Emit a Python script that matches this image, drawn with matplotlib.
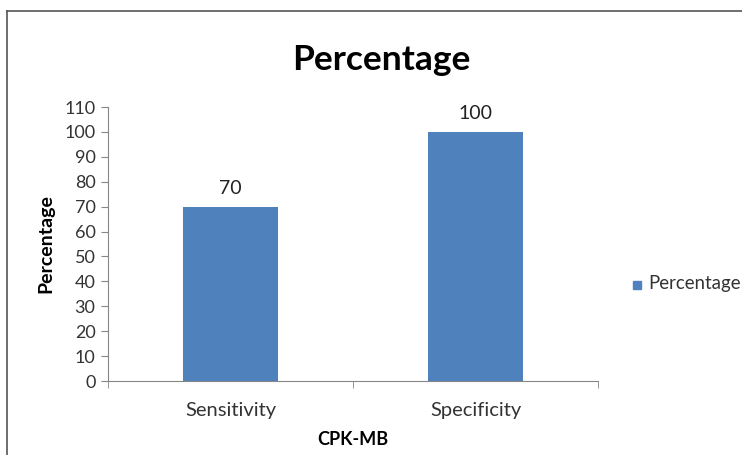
import matplotlib
matplotlib.use("Agg")
import matplotlib.pyplot as plt
from matplotlib.lines import Line2D
from matplotlib.patches import Rectangle

categories = ["Sensitivity", "Specificity"]
values = [70, 100]
yticks = list(range(0, 111, 10))

plt.rcParams["font.family"] = ["Lato", "DejaVu Sans"]

BLUE = "#4f81bd"
GRAY = "#868686"

fig = plt.figure(figsize=(7.42, 4.55), dpi=100)
ax = fig.add_axes([108 / 742, 74 / 455, 490 / 742, 274 / 455])

x = range(len(categories))
bars = ax.bar(x, values, width=0.39, color=BLUE)
for b, v in zip(bars, values):
    ax.text(b.get_x() + b.get_width() / 2, v + 4, str(v), ha="center", va="bottom",
            fontsize=14, color="#222222")

ax.set_xlim(-0.5, len(categories) - 0.5)
ax.set_ylim(0, 110)
ax.set_yticks(yticks)
ax.set_xticks(list(x))
ax.set_xticklabels(categories)
ax.set_xticks([-0.5, 0.5, 1.5], minor=True)
ax.tick_params(axis="x", which="major", length=0, pad=15, labelsize=14.5, labelcolor="#333333")
ax.tick_params(axis="x", which="minor", length=5, color=GRAY, direction="out")
ax.tick_params(axis="y", length=5, color=GRAY, labelsize=13, labelcolor="#333333", pad=4)

for s in ["top", "right"]:
    ax.spines[s].set_visible(False)
for s in ["left", "bottom"]:
    ax.spines[s].set_color(GRAY)

ax.set_xlabel("CPK-MB", fontsize=13, fontweight="bold", labelpad=9)
ax.set_ylabel("Percentage", fontsize=14, fontweight="bold", labelpad=7)
fig.text(0.514, 1 - 60 / 455, "Percentage", ha="center", va="center", fontsize=25.5, fontweight="bold")

# legend entry at the right edge
fig.patches.append(Rectangle((633 / 742, 1 - 289 / 455), 8 / 742, 8 / 455,
                             transform=fig.transFigure, color=BLUE))
fig.text(648 / 742, 1 - 283 / 455, "Percentage", ha="left", va="center",
         fontsize=13.4, color="#333333")

# chart frame (top and left edges visible)
fig.add_artist(Line2D([7 / 742, 1], [1 - 11 / 455, 1 - 11 / 455], color="#555555", lw=1.2))
fig.add_artist(Line2D([7 / 742, 7 / 742], [0, 1 - 11 / 455], color="#555555", lw=1.2))

fig.savefig("out.png", dpi=100)
